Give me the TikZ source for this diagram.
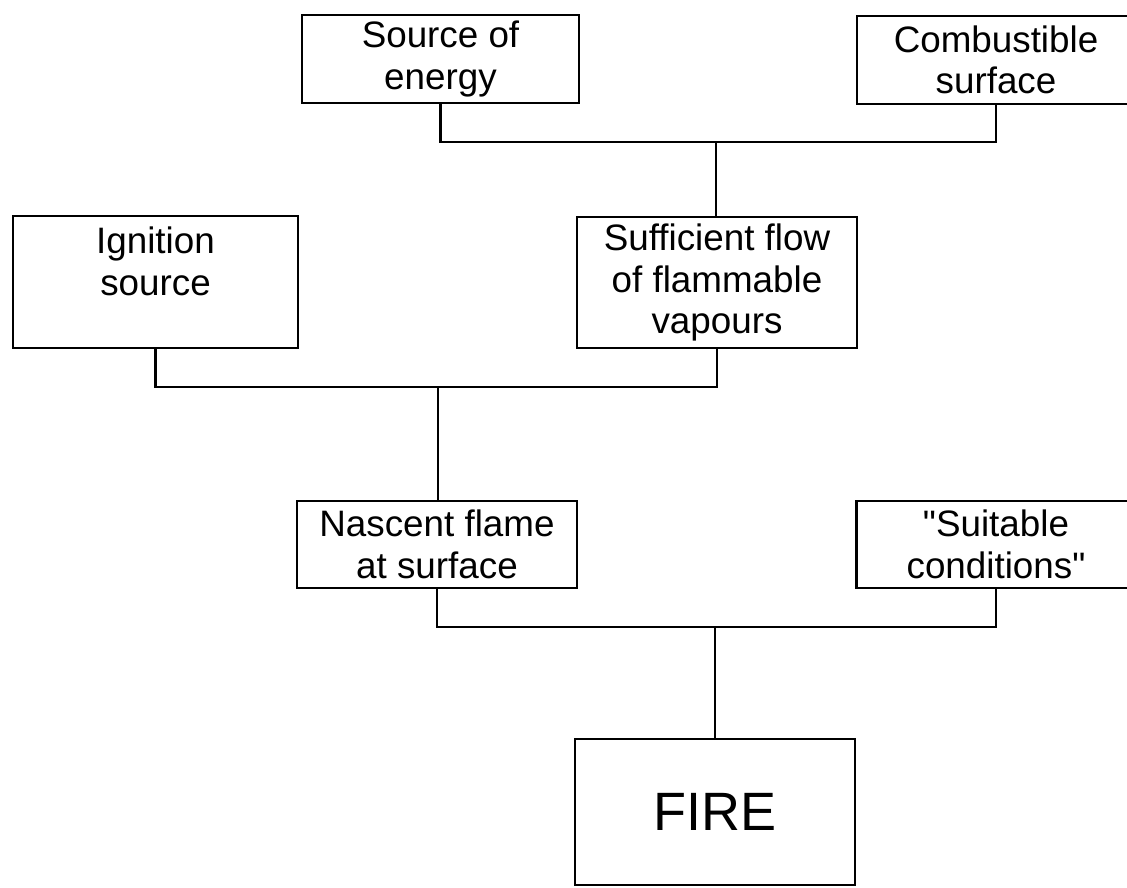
\documentclass[tikz,border=0pt]{standalone}
\usepackage{fontspec}
\setmainfont{Liberation Sans}[Ligatures=TeXOff]
\begin{document}
\begin{tikzpicture}[x=0.5pt,y=-0.5pt,
  box/.style={draw=black, line width=1.3pt, inner sep=0pt, align=center, fill=white,
    font=\fontsize{18.4}{20.75}\selectfont},
  link/.style={draw=black, line width=1.3pt}]
\useasboundingbox (0,0) rectangle (1127,887);
\clip (0,0) rectangle (1127,887);
% boxes
\node[box, minimum width=138.5pt, minimum height=44pt] (src) at (440.5,59) {Source of\\energy};
\node[box, minimum width=139pt, minimum height=44pt] (comb) at (996,60) {Combustible\\surface};
\node[box, minimum width=142.5pt, minimum height=66pt] (ign) at (155.5,282) {Ignition\\source\\\mbox{}};
\node[box, minimum width=140pt, minimum height=65.5pt] (suf) at (717,282.5) {Sufficient flow\\of flammable\\vapours};
\node[box, minimum width=140pt, minimum height=43.5pt] (nas) at (437,544.5) {Nascent flame\\at surface};
\node[box, minimum width=139.5pt, minimum height=43.5pt] (suit) at (996,544.5) {"Suitable\\conditions"};
\node[box, minimum width=140pt, minimum height=73pt, font=\fontsize{27}{30}\selectfont] (fire) at (715,812) {FIRE};
% junctions
\coordinate (j1) at (716,142);
\coordinate (j2) at (438,387);
\coordinate (j3) at (715,627);
% connectors
\draw[link] (src.south) |- (j1) -| (comb.south);
\draw[link] (j1) -- (j1 |- suf.north);
\draw[link] (ign.south) |- (j2) -| (suf.south);
\draw[link] (j2) -- (j2 |- nas.north);
\draw[link] (nas.south) |- (j3) -| (suit.south);
\draw[link] (j3) -- (j3 |- fire.north);
\end{tikzpicture}
\end{document}
